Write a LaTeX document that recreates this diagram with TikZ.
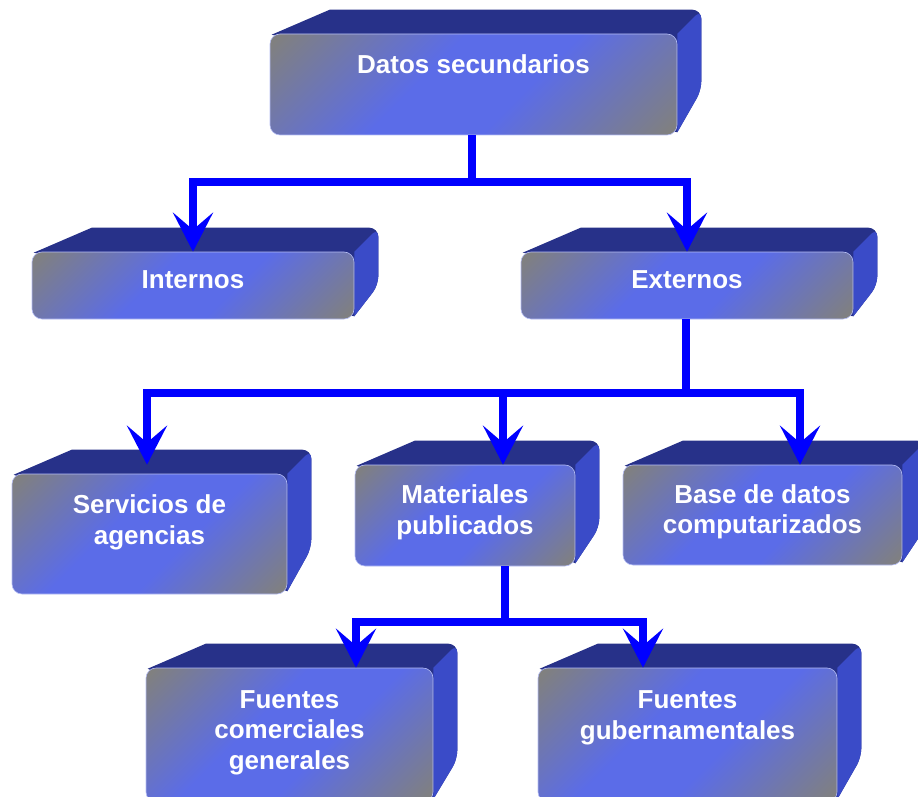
\documentclass[tikz,border=0pt]{standalone}
\usepackage{fontspec}
\setmainfont{Liberation Sans}
\usetikzlibrary{arrows.meta,backgrounds}
\definecolor{fgrey}{HTML}{808080}
\definecolor{fblue}{HTML}{5B6CE8}
\definecolor{topc}{HTML}{273189}
\definecolor{sidec}{HTML}{3A4BC8}
\definecolor{lineblue}{HTML}{0000FF}
\pgfdeclarehorizontalshading{facesh}{100bp}{color(0bp)=(fgrey); color(16bp)=(fgrey); color(42bp)=(fblue); color(58bp)=(fblue); color(84bp)=(fgrey); color(100bp)=(fgrey)}
\newcommand\solidbox[2]{%
  \begin{scope}[on background layer]
    \fill[topc] ([shift={(2pt,-1pt)}]#1.north west) -- ([shift={(60pt,24pt)}]#1.north west)
      [rounded corners=9pt] -- ([shift={(24pt,24pt)}]#1.north east)
      -- ([shift={(24pt,#2pt)}]#1.south east) [sharp corners]
      -- ([shift={(0pt,3pt)}]#1.south east) -- cycle;
    \fill[sidec] (#1.north east) [rounded corners=9pt] -- ([shift={(24pt,24pt)}]#1.north east)
      -- ([shift={(24pt,#2pt)}]#1.south east) [sharp corners]
      -- ([shift={(0pt,3pt)}]#1.south east) -- cycle;
  \end{scope}}
\tikzset{
  face/.style={rectangle, rounded corners=10pt, shade, shading=facesh, shading angle=-45,
    draw=fblue!45!white, line width=0.6pt, inner sep=0pt},
  lbl/.style={text=white, font=\bfseries\fontsize{26}{30.5}\selectfont, align=center, inner sep=0pt,
    execute at begin node=\strut, execute at end node=\strut},
  wire/.style={draw=lineblue, line width=7.5pt},
  arr/.style={wire, -{Stealth[length=39pt,width=40pt,inset=17pt]}}
}
\begin{document}
\begin{tikzpicture}[x=1pt,y=-1pt]
\useasboundingbox (0,0) rectangle (918,797);
\clip (0,0) rectangle (918,797);

\node[face, minimum width=407pt, minimum height=101pt] (ds) at (473.5,84.5) {};
\solidbox{ds}{45}
\node[lbl] at (473.5,67) {Datos secundarios};

\node[face, minimum width=322pt, minimum height=67pt] (int) at (193,285.5) {};
\solidbox{int}{34}
\node[lbl] at (193,282.8) {Internos};

\node[face, minimum width=332pt, minimum height=67pt] (ext) at (687,285.5) {};
\solidbox{ext}{34}
\node[lbl] at (687,282.8) {Externos};

\node[face, minimum width=275pt, minimum height=120pt] (serv) at (149.5,534) {};
\solidbox{serv}{46}
\node[lbl] at (149.5,524) {Servicios de\\agencias};

\node[face, minimum width=220pt, minimum height=101pt] (mat) at (465,515.5) {};
\solidbox{mat}{39}
\node[lbl] at (465,514) {Materiales\\publicados};

\node[face, minimum width=279pt, minimum height=100pt] (base) at (762.5,515) {};
\solidbox{base}{39}
\node[lbl] at (762.5,513.5) {Base de datos\\computarizados};

\node[face, minimum width=287pt, minimum height=134pt] (fcg) at (289.5,735) {};
\solidbox{fcg}{43}
\node[lbl] at (289.5,734.5) {Fuentes\\comerciales\\generales};

\node[face, minimum width=299pt, minimum height=134pt] (fg) at (687.5,735) {};
\solidbox{fg}{45}
\node[lbl] at (687.5,719.5) {Fuentes\\gubernamentales};

\coordinate (b1) at (472,182);
\draw[wire] (ds.south -| b1) -- (b1);
\draw[arr] (b1) -| (int.north);
\draw[arr] (b1) -| (ext.north);

\coordinate (b2) at (686,393);
\draw[wire] (ext.south -| b2) -- (b2);
\draw[arr] (b2) -| ([shift={(-2.5pt,9pt)}]serv.north);
\draw[arr] (b2) -| ([xshift=38pt]mat.north);
\draw[arr] (b2) -| ([xshift=37.5pt]base.north);

\coordinate (b3) at (505,622);
\draw[wire] (mat.south -| b3) -- (b3);
\draw[arr] (b3) -| ([xshift=66.5pt]fcg.north);
\draw[arr] (b3) -| ([xshift=-44.5pt]fg.north);
\end{tikzpicture}
\end{document}
